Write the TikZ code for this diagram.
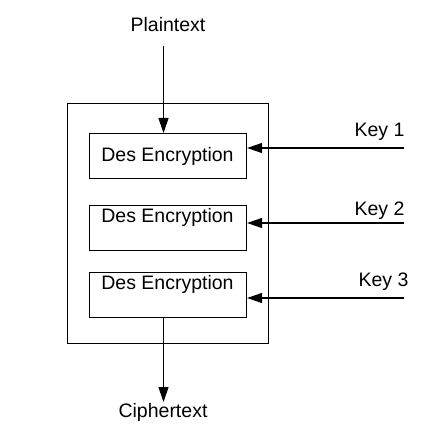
\documentclass[tikz,border=0pt]{standalone}
\usepackage{fontspec}
\setmainfont{Liberation Sans}
\usetikzlibrary{arrows.meta}
\tikzset{
  frame/.style={draw, inner sep=0pt, anchor=north west},
  box/.style={frame, minimum width=157pt, minimum height=45pt},
  lbl/.style={font=\fontsize{19.5}{22}\selectfont, inner sep=0pt},
  arr/.style={-{Triangle[length=15pt,width=10pt]}}
}
\begin{document}
\begin{tikzpicture}[line width=1.1pt]
\begin{scope}[x=1pt,y=-1pt]
\useasboundingbox (0,0) rectangle (428,435);
\node[frame, minimum width=201pt, minimum height=240pt] (outer) at (67,103) {};
\node[box] (b1) at (89,133) {};
\node[box] (b2) at (89,205) {};
\node[box] (b3) at (89,272) {};
\node[lbl] (t1) at (167.5,156) {Des Encryption};
\node[lbl] (t2) at (167.5,217) {Des Encryption};
\node[lbl] (t3) at (167.5,284) {Des Encryption};
\node[lbl, anchor=base] (plain) at (168,32) {Plaintext};
\node[lbl, anchor=base] (cipher) at (163,417) {Ciphertext};
\node[lbl, anchor=base east] (key1) at (405,137) {Key 1};
\node[lbl, anchor=base east] (key2) at (405,215) {Key 2};
\node[lbl, anchor=base east] (key3) at (409,286) {Key 3};
\coordinate (pin) at (163.5,46);
\coordinate (cout) at (163.5,402);
\coordinate (k1) at (404,148);
\coordinate (k2) at (404,223);
\coordinate (k3) at (404,298);
\end{scope}
\draw[arr] (pin) -- (pin |- b1.north);
\draw[arr] (cout |- b3.south) -- (cout);
\draw[arr] (k1) -- (k1 -| b1.east);
\draw[arr] (k2) -- (k2 -| b2.east);
\draw[arr] (k3) -- (k3 -| b3.east);
\end{tikzpicture}
\end{document}
